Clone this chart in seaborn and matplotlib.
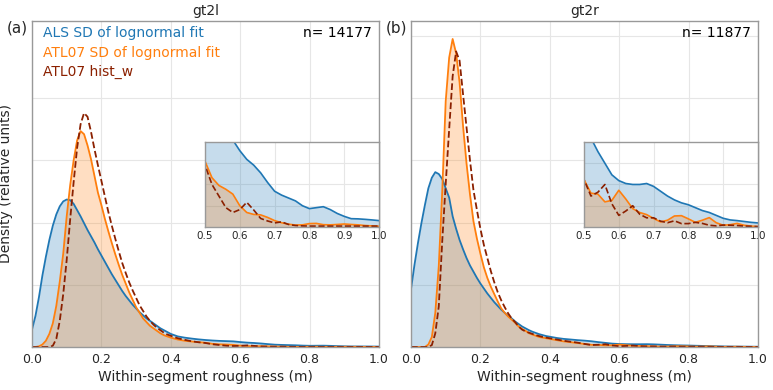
import numpy as np
import matplotlib
matplotlib.use('Agg')
import matplotlib.pyplot as plt
import seaborn as sns

# x grid of the density curves (m): fine steps up to 0.4, coarser in the tail
x_grid = np.round(np.concatenate([np.arange(0.0, 0.395, 0.01),
                                  np.arange(0.40, 1.005, 0.02)]), 2)

# gt2l densities (relative units)
als_sd_gt2l = [
    0.28, 0.50, 0.80, 1.15, 1.45, 1.72, 1.95, 2.13, 2.26, 2.34,
    2.37, 2.36, 2.30, 2.20, 2.10, 1.99, 1.88, 1.78, 1.68, 1.57,
    1.47, 1.37, 1.27, 1.17, 1.08, 0.99, 0.90, 0.82, 0.75, 0.68,
    0.62, 0.56, 0.51, 0.46, 0.42, 0.38, 0.34, 0.30, 0.27, 0.24,
    0.21, 0.17, 0.15, 0.135, 0.122, 0.112, 0.104, 0.098, 0.094, 0.090,
    0.079, 0.070, 0.064, 0.056, 0.046, 0.037, 0.033, 0.030, 0.027, 0.022,
    0.019, 0.020, 0.021, 0.018, 0.014, 0.011, 0.0086, 0.0084, 0.0079, 0.0073,
    0.0066]
atl07_sd_gt2l = [
    0.0, 0.0, 0.01, 0.04, 0.10, 0.21, 0.38, 0.66, 1.05, 1.50,
    2.10, 2.60, 3.00, 3.32, 3.47, 3.42, 3.24, 3.02, 2.75, 2.48,
    2.28, 2.06, 1.86, 1.67, 1.49, 1.32, 1.16, 1.02, 0.88, 0.76,
    0.64, 0.55, 0.46, 0.40, 0.34, 0.30, 0.26, 0.22, 0.19, 0.17,
    0.15, 0.12, 0.10, 0.088, 0.078, 0.068, 0.051, 0.043, 0.039, 0.034,
    0.022, 0.015, 0.013, 0.0125, 0.0099, 0.0066, 0.0044, 0.0029, 0.002, 0.0022,
    0.0035, 0.0037, 0.0024, 0.0022, 0.0026, 0.0031, 0.0026, 0.0022, 0.0015, 0.0011,
    0.0007]
atl07_histw_gt2l = [
    0.0, 0.0, 0.0, 0.0, 0.0, 0.0, 0.02, 0.13, 0.42, 0.85,
    1.40, 2.05, 2.65, 3.20, 3.58, 3.76, 3.70, 3.46, 3.18, 2.92,
    2.67, 2.42, 2.17, 1.95, 1.74, 1.54, 1.35, 1.19, 1.04, 0.91,
    0.79, 0.67, 0.58, 0.49, 0.42, 0.36, 0.31, 0.27, 0.23, 0.20,
    0.18, 0.14, 0.115, 0.092, 0.076, 0.064, 0.044, 0.032, 0.020, 0.015,
    0.018, 0.0255, 0.0176, 0.0088, 0.0062, 0.0042, 0.0053, 0.0026, 0.0015, 0.0011,
    0.0009, 0.0009, 0.0009, 0.0009, 0.0009, 0.0009, 0.0009, 0.0009, 0.0009, 0.0009,
    0.0009]

# gt2r densities (relative units)
als_sd_gt2r = [
    0.93, 1.32, 1.67, 1.99, 2.28, 2.55, 2.72, 2.81, 2.78, 2.70,
    2.55, 2.40, 2.10, 1.90, 1.72, 1.57, 1.43, 1.31, 1.21, 1.11,
    1.02, 0.94, 0.86, 0.79, 0.72, 0.66, 0.60, 0.55, 0.50, 0.46,
    0.41, 0.37, 0.33, 0.30, 0.27, 0.245, 0.225, 0.205, 0.19, 0.175,
    0.165, 0.145, 0.13, 0.12, 0.11, 0.102, 0.092, 0.078, 0.066, 0.054,
    0.048, 0.045, 0.044, 0.044, 0.045, 0.042, 0.037, 0.032, 0.028, 0.025,
    0.023, 0.020, 0.017, 0.015, 0.012, 0.009, 0.0073, 0.0066, 0.0057, 0.0048,
    0.0042]
atl07_sd_gt2r = [
    0.0, 0.0, 0.0, 0.0, 0.0, 0.04, 0.16, 0.55, 1.30, 2.50,
    3.95, 4.65, 4.95, 4.72, 4.25, 3.55, 2.95, 2.45, 2.02, 1.74,
    1.50, 1.28, 1.11, 0.97, 0.85, 0.73, 0.62, 0.55, 0.49, 0.44,
    0.39, 0.33, 0.29, 0.26, 0.22, 0.20, 0.18, 0.16, 0.15, 0.14,
    0.13, 0.11, 0.09, 0.077, 0.064, 0.049, 0.035, 0.034, 0.026, 0.0275,
    0.038, 0.029, 0.019, 0.015, 0.0128, 0.0088, 0.0053, 0.007, 0.0114, 0.0117,
    0.0084, 0.0048, 0.007, 0.0097, 0.0044, 0.0018, 0.0024, 0.0037, 0.0018, 0.0009,
    0.0004]
atl07_histw_gt2r = [
    0.0, 0.0, 0.0, 0.0, 0.0, 0.0, 0.03, 0.22, 0.65, 1.70,
    2.62, 3.50, 4.35, 4.75, 4.60, 4.06, 3.53, 3.00, 2.52, 2.20,
    1.90, 1.64, 1.43, 1.22, 1.04, 0.88, 0.75, 0.64, 0.54, 0.46,
    0.40, 0.33, 0.28, 0.25, 0.23, 0.21, 0.19, 0.175, 0.16, 0.15,
    0.14, 0.12, 0.10, 0.085, 0.07, 0.049, 0.032, 0.036, 0.044, 0.024,
    0.012, 0.0165, 0.022, 0.0132, 0.0095, 0.0095, 0.006, 0.0044, 0.0064, 0.0035,
    0.0035, 0.0048, 0.0037, 0.0018, 0.0011, 0.002, 0.0018, 0.0015, 0.0009, 0.0007,
    0.0004]

beams = ['gt2l', 'gt2r']
panel_tags = ['(a)', '(b)']
n_segments = [14177, 11877]
series_labels = ['ALS SD of lognormal fit', 'ATL07 SD of lognormal fit', 'ATL07 hist_w']
panel_data = {
    'gt2l': [als_sd_gt2l, atl07_sd_gt2l, atl07_histw_gt2l],
    'gt2r': [als_sd_gt2r, atl07_sd_gt2r, atl07_histw_gt2r],
}
main_yticks = {'gt2l': [1, 2, 3, 4], 'gt2r': [1, 2, 3, 4, 5]}

colors = ['#1f77b4', '#ff7f0e', '#8b2000']
styles = ['-', '-', '--']
filled = [True, True, False]

sns.set_theme(style='whitegrid')
plt.rcParams['font.family'] = ['DejaVu Sans']
plt.rcParams['axes.edgecolor'] = '0.6'
plt.rcParams['grid.color'] = '0.9'
plt.rcParams['grid.linewidth'] = 0.8

fig = plt.figure(figsize=(7.73, 3.90), dpi=100)
main_pos = [[0.0414, 0.1103, 0.4489, 0.836], [0.5317, 0.1103, 0.4489, 0.836]]
inset_pos = [[0.2652, 0.418, 0.2251, 0.218], [0.7555, 0.418, 0.2251, 0.218]]


def draw_curves(ax, curves, lw):
    for y, c, ls, f, lab in zip(curves, colors, styles, filled, series_labels):
        if f:
            ax.fill_between(x_grid, y, color=c, alpha=0.25, lw=0)
        sns.lineplot(x=x_grid, y=y, ax=ax, color=c, linestyle=ls, lw=lw,
                     estimator=None, sort=False, label=lab, legend=False)


for i, beam in enumerate(beams):
    ax = fig.add_axes(main_pos[i])
    draw_curves(ax, panel_data[beam], 1.3)
    ax.set_xlim(0, 1.0)
    ax.set_ylim(0, 5.24)
    ax.set_xticks([0, 0.2, 0.4, 0.6, 0.8, 1.0])
    ax.set_xticklabels(['0.0', '0.2', '0.4', '0.6', '0.8', '1.0'])
    ax.set_yticks(main_yticks[beam])
    ax.set_yticklabels([])
    ax.tick_params(length=0, labelsize=9, pad=4)
    ax.set_xlabel('Within-segment roughness (m)', fontsize=10, labelpad=3)
    if i == 0:
        ax.set_ylabel('Density (relative units)', fontsize=10)
        ax.yaxis.set_label_coords(-0.055, 0.5)
    else:
        ax.set_ylabel('')
    ax.set_title(beam, fontsize=10, pad=4)
    for sp in ax.spines.values():
        sp.set_linewidth(1.0)
    ax.text(-0.043, 0.979, panel_tags[i], transform=ax.transAxes,
            fontsize=11, ha='center', va='center')
    ax.text(0.98, 0.963, f'n= {n_segments[i]}', transform=ax.transAxes,
            fontsize=10, ha='right', va='center', color='black')
    if i == 0:
        for k, (lab, c) in enumerate(zip(series_labels, colors)):
            ax.text(0.032, 0.963 - 0.06 * k, lab, transform=ax.transAxes,
                    fontsize=10, ha='left', va='center', color=c)

    axi = fig.add_axes(inset_pos[i])
    draw_curves(axi, panel_data[beam], 1.2)
    axi.set_xlim(0.5, 1.0)
    axi.set_ylim(0, 0.088)
    axi.set_xticks([0.5, 0.6, 0.7, 0.8, 0.9, 1.0])
    axi.set_xticklabels(['0.5', '0.6', '0.7', '0.8', '0.9', '1.0'])
    axi.set_yticks([0.022, 0.044, 0.066])
    axi.set_yticklabels([])
    axi.tick_params(length=0, labelsize=7.5, pad=3)
    axi.set_xlabel('')
    axi.set_ylabel('')
    for sp in axi.spines.values():
        sp.set_linewidth(1.0)

fig.savefig('out.png', dpi=100)
